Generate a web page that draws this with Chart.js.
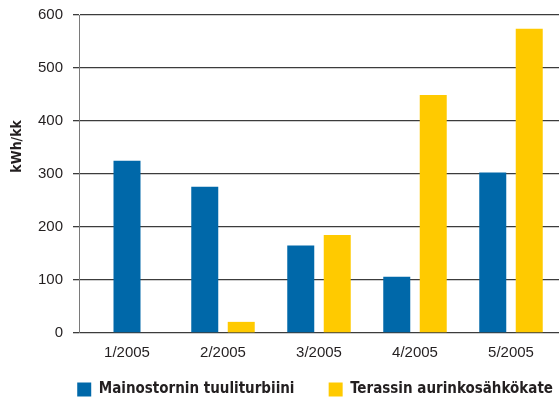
<!DOCTYPE html>
<html>
<head>
<meta charset="utf-8">
<script src="https://cdn.jsdelivr.net/npm/chart.js@4/dist/chart.umd.min.js"></script>
<style>
  html, body { margin: 0; padding: 0; background: #fff; }
  #wrap { width: 559px; height: 401px; position: relative; }
</style>
</head>
<body>
<div id="wrap"><canvas id="chart"></canvas></div>
<script>
const months = ["1/2005", "2/2005", "3/2005", "4/2005", "5/2005"];
const windValues = [325, 276, 165, 106, 303];
const solarValues = [null, 21, 185, 449, 574];
const yTicks = [0, 100, 200, 300, 400, 500, 600];

const TICK_FONT = "'Liberation Sans', Arial, sans-serif";
const BOLD_FONT = "'DejaVu Sans Condensed', 'Liberation Sans', sans-serif";
const INK = "#231f20";
const AXIS_X = 79;     // where the y axis line sits

// y title sits above centre in the original, so draw it by hand
const yTitle = {
    id: "yTitle",
    afterDraw(chart) {
        const { ctx, chartArea } = chart;
        const y = chartArea.top + (chartArea.bottom - chartArea.top) * 0.413;
        ctx.save();
        ctx.translate(17, y);
        ctx.rotate(-Math.PI / 2);
        ctx.font = "bold 14px " + BOLD_FONT;
        ctx.fillStyle = INK;
        ctx.textAlign = "center";
        ctx.textBaseline = "middle";
        ctx.fillText("kWh/kk", 0, 0);
        ctx.restore();
    }
};

const ctx = document.getElementById("chart").getContext("2d");
new Chart(ctx, {
    type: "bar",
    data: {
        labels: months,
        datasets: [
            {
                label: "Mainostornin tuuliturbiini",
                data: windValues,
                backgroundColor: "#0068a9",
                skipNull: true
            },
            {
                label: "Terassin aurinkosähkökate",
                data: solarValues,
                backgroundColor: "#ffca00",
                skipNull: true
            }
        ]
    },
    options: {
        responsive: true,
        maintainAspectRatio: false,
        animation: false,
        categoryPercentage: 0.76,
        barPercentage: 0.75,
        maxBarThickness: 27,
        layout: { padding: { top: 15, right: 0, left: 0, bottom: -6 } },
        scales: {
            x: {
                grid: { display: false, drawTicks: false },
                border: { display: false },
                ticks: { color: INK, font: { family: TICK_FONT, size: 15 }, padding: 11 },
                afterFit: s => { s.height += 3; }
            },
            y: {
                min: 0,
                max: 600,
                afterBuildTicks: s => { s.ticks = yTicks.map(v => ({ value: v })); },
                afterFit: s => { s.width = AXIS_X; s.paddingTop = 0; },
                grid: { color: "#3c3c3c", lineWidth: 1.3, tickLength: 6, tickColor: "#3c3c3c" },
                border: { color: "#7a7a7a", width: 1 },
                ticks: { color: INK, font: { family: TICK_FONT, size: 15 }, padding: 10 }
            }
        },
        plugins: {
            legend: {
                position: "bottom",
                align: "end",
                labels: {
                    color: INK,
                    font: { family: BOLD_FONT, size: 15, weight: "bold" },
                    boxWidth: 14,
                    boxHeight: 14,
                    padding: 6,
                    // widen the gap between the two entries
                    generateLabels: chart => {
                        const items = Chart.defaults.plugins.legend.labels.generateLabels(chart);
                        items.forEach((it, i) => { if (i < items.length - 1) it.text += "      "; });
                        return items;
                    }
                }
            },
            tooltip: { enabled: false }
        }
    },
    plugins: [yTitle]
});
</script>
</body>
</html>
